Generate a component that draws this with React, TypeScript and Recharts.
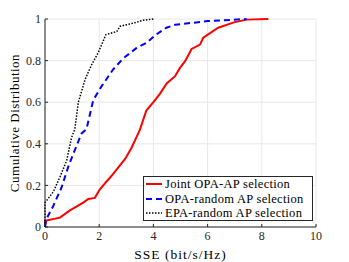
import { CartesianGrid, Line, LineChart, XAxis, YAxis } from "recharts";

// SSE (bit/s/Hz) vs cumulative probability
const jointX = [0, 0, 0.55, 0.92, 1.41, 1.6, 1.84, 2.02, 2.21, 2.45, 2.7, 2.95, 3.19, 3.44, 3.5, 3.74, 4.0, 4.24, 4.49, 4.8, 4.98, 5.17, 5.41, 5.72, 5.84, 6.39, 7.0, 7.44, 8.24];
const jointY = [0, 0.03, 0.045, 0.08, 0.117, 0.135, 0.14, 0.18, 0.21, 0.245, 0.285, 0.326, 0.38, 0.45, 0.467, 0.56, 0.6, 0.64, 0.69, 0.725, 0.765, 0.797, 0.856, 0.877, 0.91, 0.958, 0.985, 0.997, 1.0];

const opaRandX = [0, 0.06, 0.3, 0.61, 0.86, 1.1, 1.35, 1.53, 1.78, 2.08, 2.51, 2.88, 3.37, 3.74, 4.1, 4.48, 4.8, 6.0, 7.44];
const opaRandY = [0, 0.04, 0.1, 0.19, 0.29, 0.37, 0.45, 0.47, 0.61, 0.675, 0.757, 0.81, 0.86, 0.885, 0.925, 0.958, 0.972, 0.99, 1.0];

const epaRandX = [0, 0, 0.31, 0.55, 0.8, 0.98, 1.1, 1.23, 1.48, 1.72, 1.97, 2.25, 2.65, 2.77, 3.26, 3.63, 4.0];
const epaRandY = [0, 0.117, 0.17, 0.24, 0.32, 0.43, 0.47, 0.6, 0.71, 0.78, 0.84, 0.925, 0.94, 0.965, 0.98, 0.994, 1.0];

const xTicks = [0, 2, 4, 6, 8, 10];
const yTicks = [0, 0.2, 0.4, 0.6, 0.8, 1];

const toRows = (xs: number[], ys: number[]) => xs.map((x, i) => ({ x, y: ys[i] }));

const series = [
  { name: "Joint OPA-AP selection", rows: toRows(jointX, jointY), color: "#ff0000", width: 2, dash: undefined },
  { name: "OPA-random AP selection", rows: toRows(opaRandX, opaRandY), color: "#0000ff", width: 2, dash: "6 4" },
  { name: "EPA-random AP selection", rows: toRows(epaRandX, epaRandY), color: "#000000", width: 1.5, dash: "1.5 1.5" },
];

const font = "'Liberation Serif', 'DejaVu Serif', serif";
const tick = { fill: "#262626", fontSize: 12, fontFamily: font };

function LegendBox() {
  return (
    <div
      style={{
        position: "absolute",
        left: 143,
        top: 176,
        width: 166,
        height: 43,
        boxSizing: "content-box",
        background: "#fff",
        border: "1px solid #262626",
        padding: "0 0 0 2px",
        fontFamily: font,
        fontSize: 12.5,
        letterSpacing: 0.3,
        color: "#000",
        lineHeight: "14.5px",
      }}
    >
      {series.map((s) => (
        <div key={s.name} style={{ display: "flex", alignItems: "center", whiteSpace: "nowrap" }}>
          <svg width={16} height={6} style={{ marginRight: 3 }}>
            <line x1={0} y1={3} x2={16} y2={3} stroke={s.color} strokeWidth={s.width} strokeDasharray={s.dash} />
          </svg>
          {s.name}
        </div>
      ))}
    </div>
  );
}

export default function App() {
  return (
    <div style={{ position: "absolute", left: 0, top: 0, width: 349, height: 262, background: "#fff" }}>
      <LineChart width={349} height={262} margin={{ top: 19, right: 33, bottom: 0, left: 0 }}>
        <CartesianGrid stroke="#e8e8e8" strokeWidth={1} />
        <XAxis
          dataKey="x"
          type="number"
          domain={[0, 10]}
          ticks={xTicks}
          tick={tick}
          tickSize={-3}
          tickMargin={7}
          tickLine={{ stroke: "#262626" }}
          axisLine={{ stroke: "#262626" }}
          height={35}
          label={{ value: "SSE (bit/s/Hz)", position: "insideBottom", offset: 3, fill: "#000", fontSize: 13.5, letterSpacing: 1, fontFamily: font }}
          allowDuplicatedCategory={false}
        />
        <XAxis xAxisId="top" orientation="top" type="number" domain={[0, 10]} ticks={xTicks} tick={false} tickSize={0} axisLine={{ stroke: "#262626" }} height={0} />
        <YAxis
          type="number"
          domain={[0, 1]}
          ticks={yTicks}
          tick={tick}
          tickSize={-3}
          tickMargin={7}
          tickLine={{ stroke: "#262626" }}
          axisLine={{ stroke: "#262626" }}
          width={45}
          label={{ value: "Cumulative Distribution", angle: -90, position: "insideLeft", offset: 14, style: { textAnchor: "middle" }, fill: "#000", fontSize: 13, letterSpacing: 0.5, fontFamily: font }}
        />
        <YAxis yAxisId="right" orientation="right" type="number" domain={[0, 1]} ticks={yTicks} tick={false} tickSize={3} mirror axisLine={{ stroke: "#262626" }} tickLine={{ stroke: "#262626" }} width={0} />
        {series.map((s) => (
          <Line
            key={s.name}
            data={s.rows}
            dataKey="y"
            name={s.name}
            type="linear"
            stroke={s.color}
            strokeWidth={s.width}
            strokeDasharray={s.dash}
            dot={false}
            isAnimationActive={false}
          />
        ))}
      </LineChart>
      <LegendBox />
    </div>
  );
}
